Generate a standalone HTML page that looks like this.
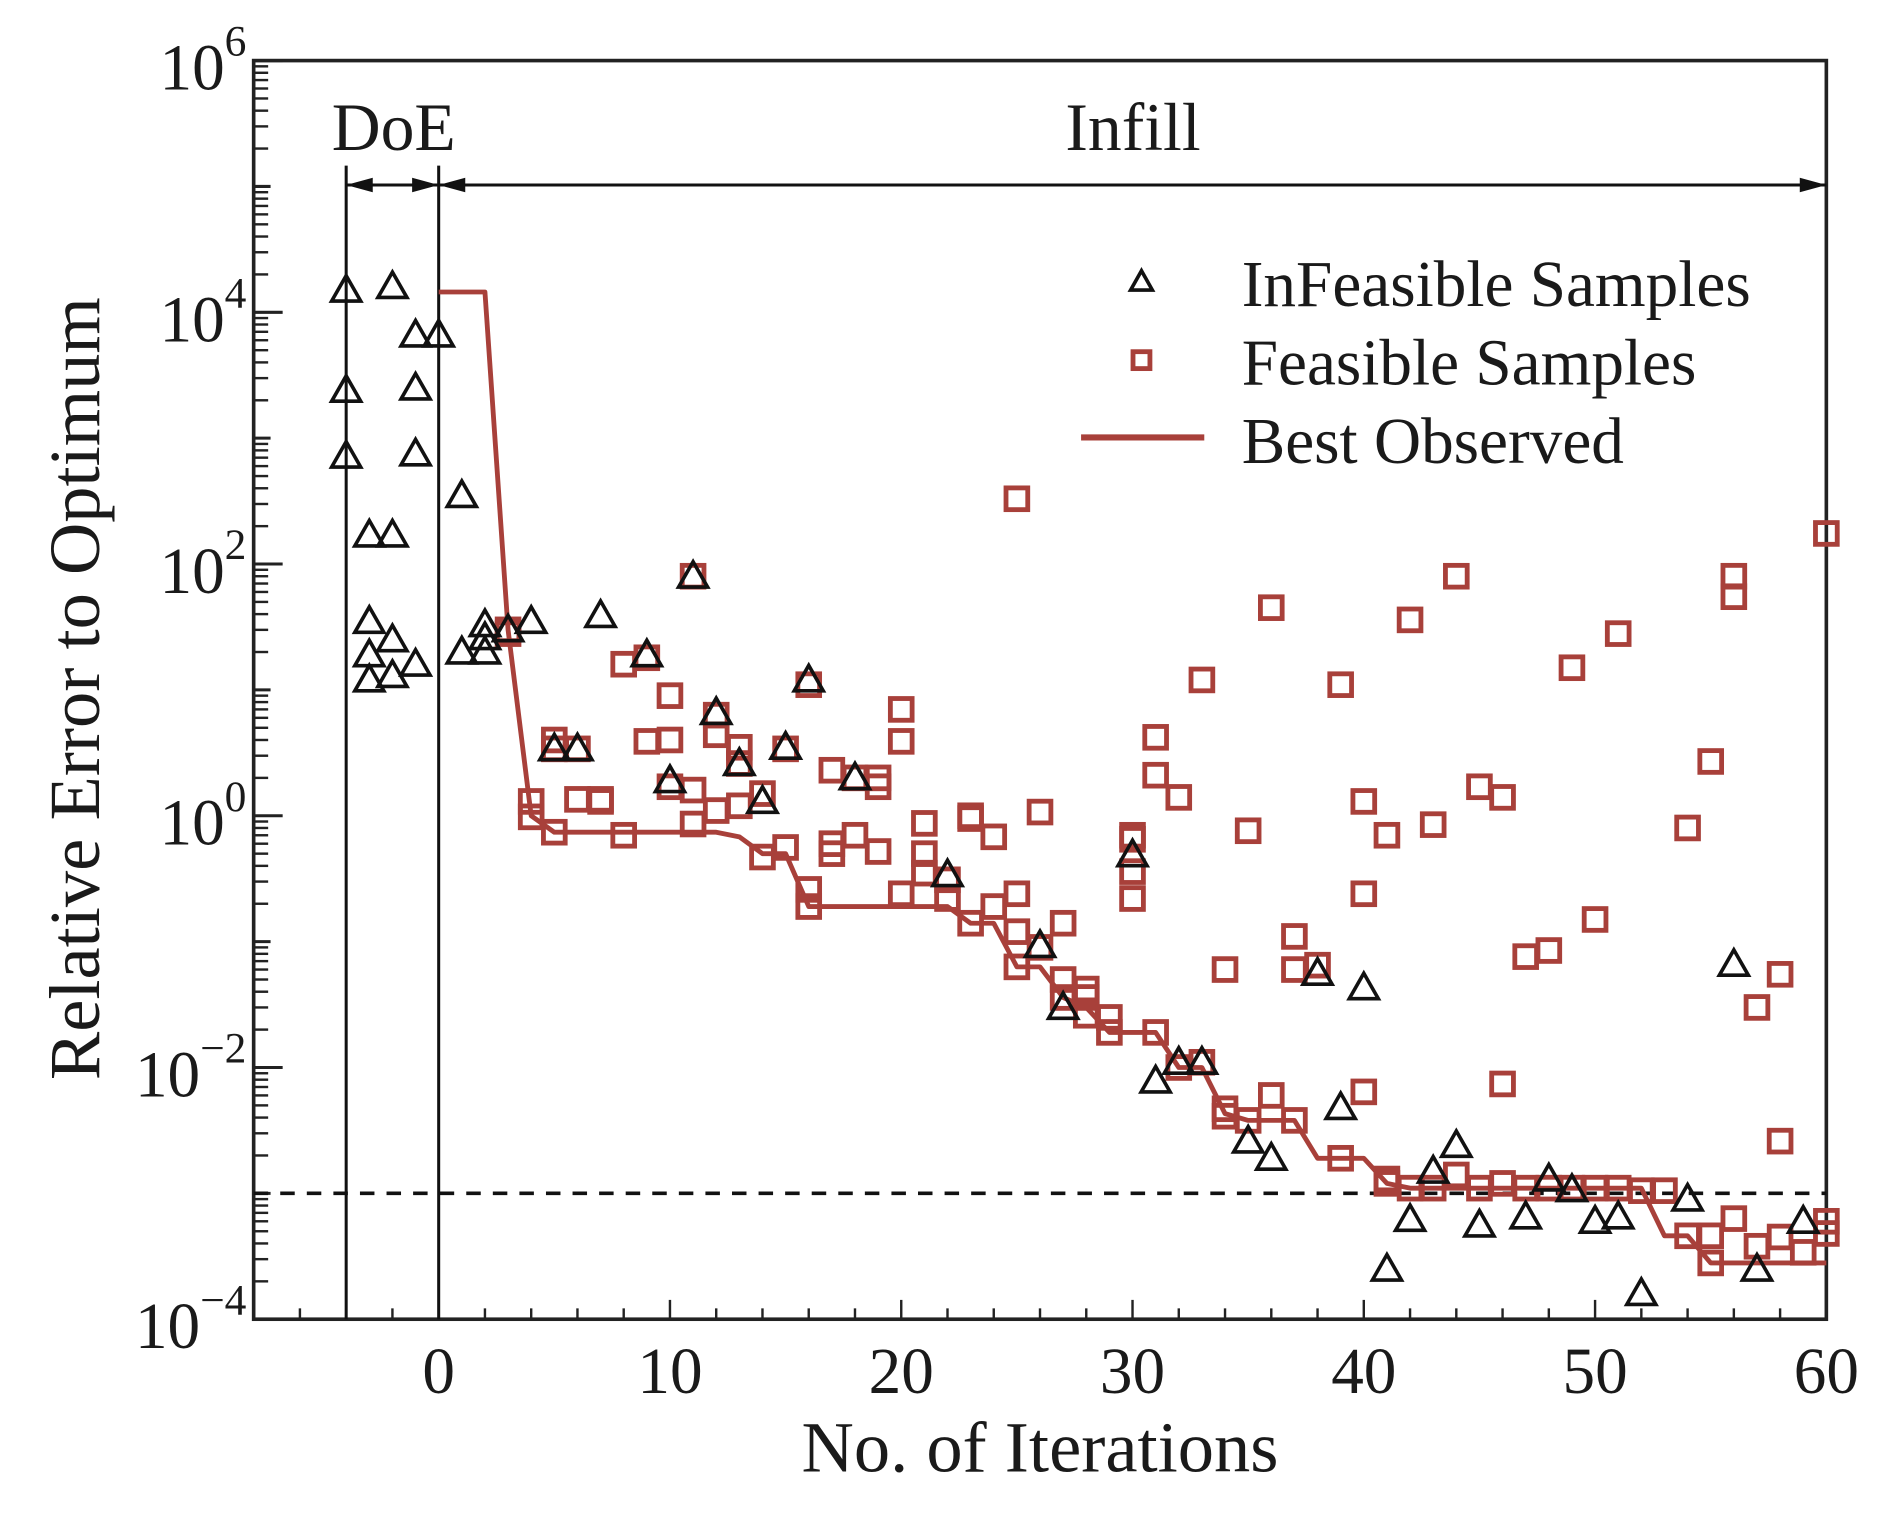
<!DOCTYPE html>
<html><head><meta charset="utf-8"><style>
html,body{margin:0;padding:0;background:#fff;}
svg{display:block;}
text{font-family:"Liberation Serif",serif;fill:#1a1a1a;}
</style></head><body>
<svg id="chart" width="1894" height="1532" viewBox="0 0 1568 1268" xmlns="http://www.w3.org/2000/svg">
</svg>
<script>
// ---- data ----
const infeasX = [-4,-4,-4,-3,-3,-3,-3,-2,-2,-2,-2,-1,-1,-1,-1,0,1,1,2,2,2,3,4,5,6,7,9,10,11,12,13,14,15,16,18,22,26,27,30,31,32,33,35,36,38,39,40,41,42,43,44,45,47,48,49,50,51,52,54,56,57,59];
const infeasY = [1.5e4,2400,720,170,35,19,12,1.6e4,170,25,13,6600,2500,750,16,6600,350,20,33,26,20,30,35,3.4,3.4,39,19,1.9,80,6.6,2.6,1.3,3.5,12,2,0.34,0.093,0.03,0.49,0.0078,0.011,0.011,0.0026,0.0019,0.056,0.0048,0.043,2.5e-4,6.2e-4,0.0015,0.0024,5.6e-4,6.5e-4,0.0013,0.00107,6e-4,6.5e-4,1.6e-4,9e-4,0.066,2.5e-4,6e-4];
const feasX = [3,3,4,4,5,5,5,6,6,7,7,8,8,9,9,10,10,10,11,11,11,12,12,12,13,13,13,14,14,15,15,16,16,16,17,17,17,18,18,19,19,19,20,20,20,21,21,21,22,22,23,23,23,24,24,25,25,25,25,26,26,27,27,27,28,28,28,29,29,30,30,30,30,31,31,31,32,32,33,33,34,34,34,35,35,36,36,37,37,37,38,39,39,40,40,40,41,41,41,42,42,43,43,44,44,45,45,46,46,46,47,47,48,48,49,49,50,50,51,51,52,53,54,54,55,55,55,56,56,56,57,57,58,58,58,59,60,60,60];
const feasY = [30,28,1.3,0.98,4,3.4,0.74,3.4,1.35,1.35,1.3,16,0.7,18,3.9,9,4,1.7,80,1.6,0.86,6.3,4.4,1.1,3.5,2.6,1.2,1.5,0.47,3.4,0.56,11,0.26,0.19,2.3,0.6,0.5,0.7,2,2,1.7,0.52,7,3.9,0.24,0.87,0.5,0.35,0.31,0.22,1,0.95,0.14,0.68,0.19,330,0.24,0.12,0.063,1.07,0.09,0.14,0.05,0.036,0.042,0.036,0.026,0.025,0.019,0.7,0.65,0.36,0.22,4.2,2.1,0.019,1.4,0.01,12,0.011,0.06,0.0047,0.0041,0.76,0.0038,45,0.006,0.11,0.06,0.0038,0.065,11,0.0019,1.3,0.24,0.0064,0.7,0.0013,0.0012,36,0.0011,0.85,0.0011,80,0.0014,1.7,0.0011,1.4,0.0074,0.0012,0.076,0.0011,0.085,0.0011,15,0.0011,0.15,0.0011,28,0.0011,0.00105,0.00105,0.8,4.6e-4,2.7,4.6e-4,2.8e-4,80,55,6.3e-4,0.03,3.8e-4,0.055,0.0026,4.5e-4,3.4e-4,175,6e-4,4.8e-4];
const bestX = [0,2,3,4,5,12,13,14,15,16,22,23,24,25,26,27,28,29,31,32,33,34,35,37,38,40,41,42,52,53,54,55,60];
const bestY = [1.45e4,1.45e4,30,1.0,0.74,0.74,0.68,0.5,0.5,0.19,0.19,0.14,0.14,0.063,0.063,0.036,0.03,0.019,0.019,0.01,0.01,0.0043,0.0038,0.0038,0.0019,0.0019,0.0012,0.0011,0.0011,4.6e-4,4.6e-4,2.8e-4,2.8e-4];
const xTicks = [0,10,20,30,40,50,60];
const yDecades = [-4,-3,-2,-1,0,1,2,3,4,5,6];
const yLabelExps = [6,4,2,0,-2,-4];
// ---- axes ----
const L=210,R=1512,T=50,B=1092,X0=-8,X1=60,YMIN=-4,YMAX=6;
const RED="#a8403a";
function sx(v){return L+(v-X0)/(X1-X0)*(R-L);}
function sy(v){return B-(Math.log10(v)-YMIN)/(YMAX-YMIN)*(B-T);}
const svg=document.getElementById('chart');
const NS="http://www.w3.org/2000/svg";
function mk(tag,attrs,parent){const e=document.createElementNS(NS,tag);for(const k in attrs)e.setAttribute(k,attrs[k]);(parent||svg).appendChild(e);return e;}

const frame=mk('rect',{x:L,y:T,width:R-L,height:B-T,fill:'none',stroke:'#222','stroke-width':3});



const xt=mk('g',{});


for(let v=X0;v<=X1;v+=2){
  const major=xTicks.includes(v);
  mk('line',{x1:sx(v),x2:sx(v),y1:B,y2:B-(major?16:9),stroke:'#222','stroke-width':2},xt);
}
xTicks.forEach(v=>{
  const t=mk('text',{x:sx(v),y:1153,'text-anchor':'middle','font-size':54});
  t.textContent=v;
  
  
});
const yt=mk('g',{});


yDecades.forEach(d=>{
  const major=yLabelExps.includes(d);
  mk('line',{x1:L,x2:L+(major?24:14),y1:sy(Math.pow(10,d)),y2:sy(Math.pow(10,d)),stroke:'#222','stroke-width':2.5},yt);
  if(d<YMAX){for(let m=2;m<=9;m++){const y=sy(m*Math.pow(10,d));mk('line',{x1:L,x2:L+12,y1:y,y2:y,stroke:'#222','stroke-width':2},yt);}}
});
yLabelExps.forEach(e=>{
  const t=mk('text',{x:204,y:sy(Math.pow(10,e))+24,'text-anchor':'end','font-size':54});
  
  
  t.appendChild(document.createTextNode('10'));
  const s=document.createElementNS(NS,'tspan');
  s.setAttribute('dy','-28');
  s.setAttribute('font-size','36');
  s.textContent=(e<0?'\u2212':'')+Math.abs(e);
  t.appendChild(s);
});
const xtitle=mk('text',{x:861,y:1218,'text-anchor':'middle','font-size':60});
xtitle.textContent='No. of Iterations';


const ytitle=mk('text',{x:0,y:0,'text-anchor':'middle','font-size':60,transform:'translate(82,570) rotate(-90)'});
ytitle.textContent='Relative Error to Optimum';



const th=mk('line',{x1:L,x2:R,y1:sy(1e-3),y2:sy(1e-3),stroke:'#111','stroke-width':3,'stroke-dasharray':'12 10'});



const ph=mk('g',{});


mk('line',{x1:sx(-4),x2:sx(-4),y1:137,y2:B,stroke:'#111','stroke-width':2.5},ph);
mk('line',{x1:sx(0),x2:sx(0),y1:137,y2:B,stroke:'#111','stroke-width':2.5},ph);
const ay=153;
mk('line',{x1:sx(-4),x2:sx(0),y1:ay,y2:ay,stroke:'#111','stroke-width':2.5},ph);
mk('line',{x1:sx(0),x2:R,y1:ay,y2:ay,stroke:'#111','stroke-width':2.5},ph);
function head(x,dir){mk('polygon',{points:`${x},${ay} ${x+dir*22},${ay-6} ${x+dir*22},${ay+6}`,fill:'#111'},ph);}
head(sx(-4),1);head(sx(0),-1);head(sx(0),1);head(R,-1);
const doe=mk('text',{x:326,y:124,'text-anchor':'middle','font-size':56});
doe.textContent='DoE';


const inf=mk('text',{x:938,y:124,'text-anchor':'middle','font-size':56});
inf.textContent='Infill';



const bl=mk('polyline',{points:bestX.map((x,i)=>sx(x)+','+sy(bestY[i])).join(' '),fill:'none',stroke:RED,'stroke-width':4,'stroke-linejoin':'round'});



const fg=mk('g',{});


feasX.forEach((x,i)=>{
  const r=mk('rect',{x:sx(x)-9,y:sy(feasY[i])-9,width:18,height:18,fill:'none',stroke:RED,'stroke-width':4},fg);
  
  
});
const ig=mk('g',{});


infeasX.forEach((x,i)=>{
  const cx=sx(x),cy=sy(infeasY[i]);
  const p=mk('polygon',{points:`${cx},${cy-12} ${cx-12},${cy+9} ${cx+12},${cy+9}`,fill:'none',stroke:'#111','stroke-width':3},ig);
  
  
});

const lg=mk('g',{});


mk('polygon',{points:'945,224 936,240 954,240',fill:'none',stroke:'#111','stroke-width':3},lg);
mk('rect',{x:938,y:291,width:14,height:14,fill:'none',stroke:RED,'stroke-width':4},lg);
mk('line',{x1:895,x2:997,y1:362,y2:362,stroke:RED,'stroke-width':5},lg);
[['InFeasible Samples',253],['Feasible Samples',318],['Best Observed',383]].forEach(([s,y])=>{
  const t=mk('text',{x:1028,y:y,'font-size':54},lg);
  t.textContent=s;
  
  
});
</script>
</body></html>
